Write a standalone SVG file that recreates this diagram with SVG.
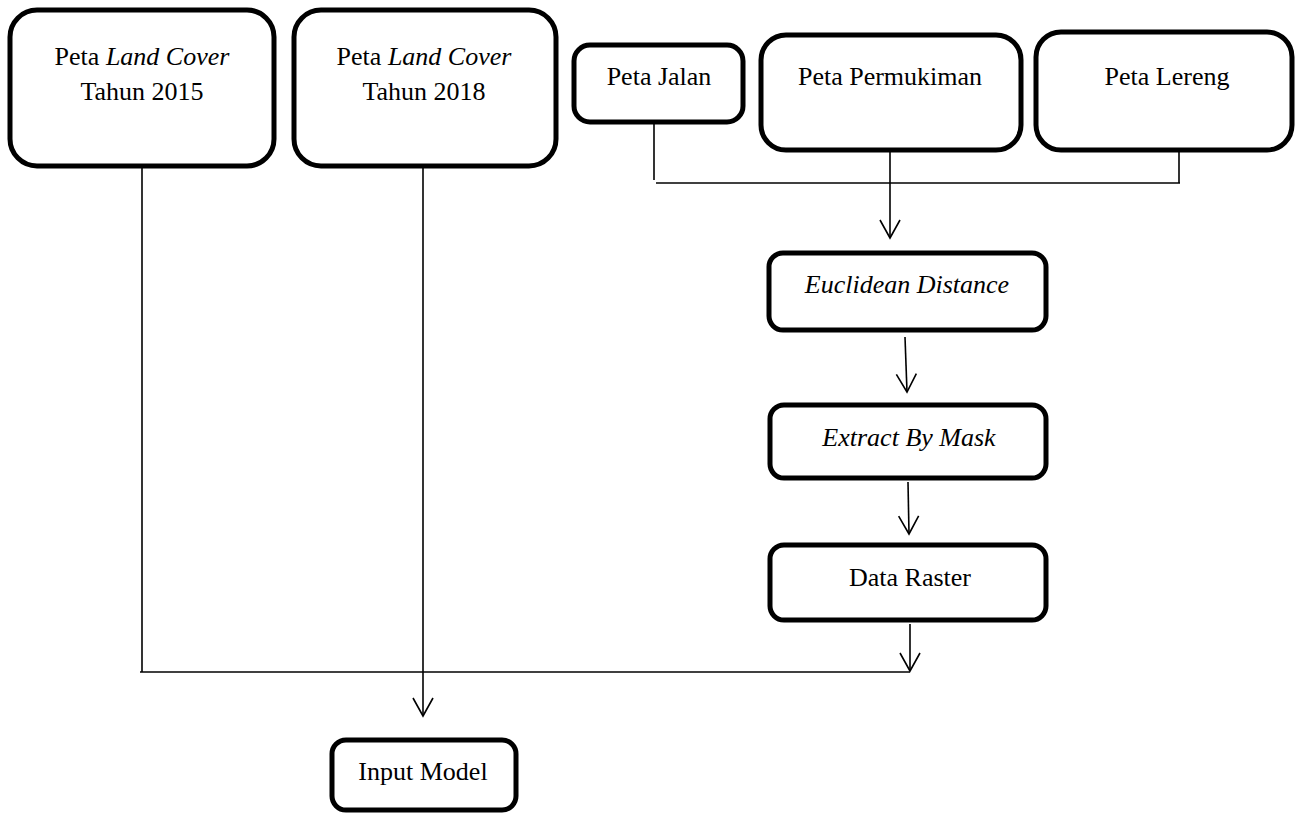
<svg xmlns="http://www.w3.org/2000/svg" width="1296" height="816" viewBox="0 0 1296 816">
<style>
.box{fill:#fff;stroke:#000;stroke-width:5}
.t{font-family:"Liberation Serif","Times New Roman",serif;font-size:26px;fill:#000;text-anchor:middle}
.i{font-style:italic}
.c{fill:none;stroke:#000;stroke-width:1.6}
</style>
<defs>
<marker id="ah" markerUnits="userSpaceOnUse" markerWidth="24" markerHeight="24" viewBox="-20 -12 24 24" refX="0" refY="0" orient="auto" overflow="visible">
<path d="M-18,-10 L0,0 L-18,10" fill="none" stroke="#000" stroke-width="1.6"/>
</marker>
</defs>
<g id="connectors">
<path class="c" d="M142,168 V672"/>
<path class="c" d="M140,672 H910"/>
<path class="c" d="M423,168 V716" marker-end="url(#ah)"/>
<path class="c" d="M654,124 V180"/>
<path class="c" d="M656,183 H1180"/>
<path class="c" d="M1179,152 V183"/>
<path class="c" d="M890,152 V238" marker-end="url(#ah)"/>
<path class="c" d="M905,337 L907,392" marker-end="url(#ah)"/>
<path class="c" d="M908,482 L909,534" marker-end="url(#ah)"/>
<path class="c" d="M910,624 V671" marker-end="url(#ah)"/>
</g>
<g id="lc2015">
<rect class="box" x="10" y="10" width="264" height="156" rx="27"/>
<text class="t" x="142" y="65">Peta <tspan class="i">Land Cover</tspan></text>
<text class="t" x="142" y="100">Tahun 2015</text>
</g>
<g id="lc2018">
<rect class="box" x="294" y="10" width="262" height="156" rx="27"/>
<text class="t" x="424" y="65">Peta <tspan class="i">Land Cover</tspan></text>
<text class="t" x="424" y="100">Tahun 2018</text>
</g>
<g id="jalan">
<rect class="box" x="574" y="45" width="169" height="77" rx="16"/>
<text class="t" x="659" y="85">Peta Jalan</text>
</g>
<g id="permukiman">
<rect class="box" x="761" y="35" width="260" height="115" rx="25"/>
<text class="t" x="890" y="85">Peta Permukiman</text>
</g>
<g id="lereng">
<rect class="box" x="1036" y="32" width="256" height="118" rx="25"/>
<text class="t" x="1167" y="85">Peta Lereng</text>
</g>
<g id="euclidean">
<rect class="box" x="769" y="253" width="277" height="77" rx="14"/>
<text class="t i" x="907" y="293">Euclidean Distance</text>
</g>
<g id="extract">
<rect class="box" x="770" y="405" width="276" height="73" rx="14"/>
<text class="t i" x="909" y="446">Extract By Mask</text>
</g>
<g id="raster">
<rect class="box" x="770" y="545" width="276" height="75" rx="14"/>
<text class="t" x="910" y="586">Data Raster</text>
</g>
<g id="input">
<rect class="box" x="332" y="740" width="184" height="70" rx="14"/>
<text class="t" x="423" y="780">Input Model</text>
</g>
</svg>
